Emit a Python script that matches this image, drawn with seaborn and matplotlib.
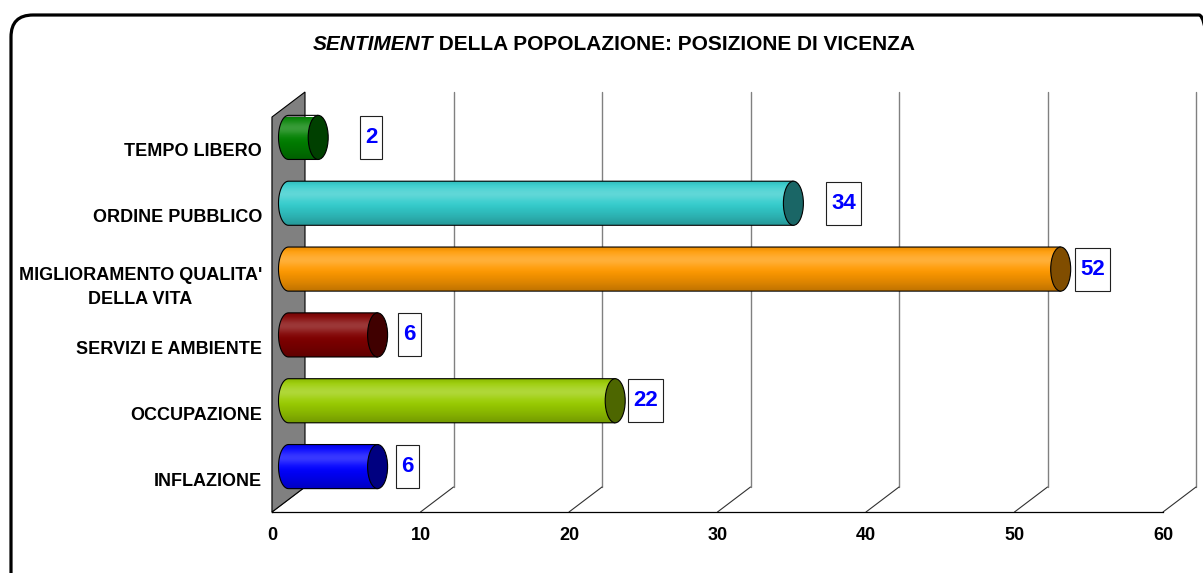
import numpy as np
import pandas as pd
import matplotlib
matplotlib.use("Agg")
import matplotlib.pyplot as plt
import seaborn as sns
from matplotlib.patches import Polygon, Ellipse, FancyBboxPatch, Rectangle
from matplotlib.transforms import Affine2D
from matplotlib.path import Path
from matplotlib.colors import to_rgb

# ---------------- data ----------------
CATEGORIES = ["TEMPO LIBERO", "ORDINE PUBBLICO", "MIGLIORAMENTO QUALITA'\nDELLA VITA",
              "SERVIZI E AMBIENTE", "OCCUPAZIONE", "INFLAZIONE"]
VALUES = [2, 34, 52, 6, 22, 6]
COLORS = ["#008000", "#33CCCC", "#FF9900", "#800000", "#99CC00", "#0000FF"]
X_TICKS = [0, 10, 20, 30, 40, 50, 60]
TITLE_ITALIC = "SENTIMENT"
TITLE_REST = " DELLA POPOLAZIONE: POSIZIONE DI VICENZA"

# ---------------- style ----------------
LABEL_GAP_PX = [53, 50, 32, 32, 30, 30]   # gap between bar end and value box centre
FONT = "Liberation Sans"

sns.set_style("white")
plt.rcParams["font.family"] = [FONT, "DejaVu Sans"]
plt.rcParams["text.color"] = "black"
plt.rcParams["xtick.labelcolor"] = "black"
plt.rcParams["ytick.labelcolor"] = "black"

W, H, DPI = 1203, 573, 100
fig = plt.figure(figsize=(W / DPI, H / DPI), dpi=DPI)
ax_l, ax_r, ax_t, ax_b = 272, 1163, 117, 512
ax = fig.add_axes([ax_l / W, (H - ax_b) / H, (ax_r - ax_l) / W, (ax_b - ax_t) / H])

df = pd.DataFrame({"cat": CATEGORIES, "val": VALUES})
sns.barplot(data=df, x="val", y="cat", hue="cat", palette=COLORS, legend=False,
            orient="h", width=0.67, linewidth=0, saturation=1, ax=ax, zorder=2.5)
bars = [p for p in ax.patches if isinstance(p, Rectangle)]
bars = sorted(bars, key=lambda p: p.get_y())

n = len(CATEGORIES)
xmin, xmax = X_TICKS[0], X_TICKS[-1]
px_per_x = (ax_r - ax_l) / (xmax - xmin)
px_per_y = (ax_b - ax_t) / n
DX = 33 / px_per_x          # depth offset in data units
DY = 25 / px_per_y
EW = 20 / px_per_x          # ellipse width of cylinder ends

off_mid = Affine2D().translate(DX / 2, -DY / 2) + ax.transData
y_bot, y_top = n - 0.5, -0.5

# left wall
wall = Polygon([(0, y_bot), (0, y_top), (DX, y_top - DY), (DX, y_bot - DY)], closed=True,
               fc="#808080", ec="black", lw=0.8, zorder=1, clip_on=False)
ax.add_patch(wall)

# back grid + floor diagonals
for t in X_TICKS[1:]:
    ax.plot([t + DX, t + DX], [y_bot - DY, y_top - DY], color="#808080", lw=1.0,
            zorder=0.5, clip_on=False)
for t in X_TICKS:
    ax.plot([t, t + DX], [y_bot, y_bot - DY], color="#303030", lw=0.8, zorder=0.6,
            clip_on=False)

# cylinders built on top of seaborn bars
tt = np.linspace(0, 1, 80)
light = 0.22 * np.exp(-((tt - 0.30) / 0.17) ** 2)
dark = 0.25 * np.clip((tt - 0.5) / 0.5, 0, 1) ** 1.3 + 0.10 * np.clip((0.12 - tt) / 0.12, 0, 1)

for p in bars:
    v = p.get_width()
    y0 = p.get_y()
    h = p.get_height()
    yc = y0 + h / 2
    base = np.array(to_rgb(p.get_facecolor()))
    p.set_transform(off_mid)

    theta = np.linspace(np.pi / 2, 3 * np.pi / 2, 40)
    left_arc = np.column_stack([(EW / 2) * np.cos(theta), yc - (h / 2) * np.sin(theta)])
    verts = np.vstack([[[v, y0]], left_arc, [[v, y0 + h]]])
    outline = Polygon(verts, closed=True, fc="none", ec="black", lw=0.8,
                      transform=off_mid, zorder=4, clip_on=False)
    ax.add_patch(outline)

    rgb = (base[None, :] * (1 - light[:, None]) + light[:, None]) * (1 - dark[:, None])
    img = rgb[:, None, :]
    im = ax.imshow(img, extent=(-EW / 2, v, y0 + h, y0), origin="upper", aspect="auto",
                   transform=off_mid, interpolation="bilinear", zorder=3)
    im.set_clip_path(outline)

    cap = Ellipse((v, yc), EW, h, fc=base * 0.5, ec="black", lw=0.8,
                  transform=off_mid, zorder=5, clip_on=False)
    ax.add_patch(cap)


# value labels with tall boxes
def tall_box(x0, y0, width, height, mutation_size):
    padx = 5
    bh = 43
    cy = y0 + height / 2
    x1 = x0 - padx
    x2 = x0 + width + padx
    yb, yt = cy - bh / 2, cy + bh / 2
    return Path([(x1, yb), (x2, yb), (x2, yt), (x1, yt), (x1, yb)], closed=True)


for i, p in enumerate(bars):
    v = p.get_width()
    yc = p.get_y() + p.get_height() / 2
    ax.annotate(f"{v:g}", xy=(v, yc), xycoords="data",
                xytext=(LABEL_GAP_PX[i] + 16.5, 12.5), textcoords="offset pixels",
                ha="center", va="center", color="#0000FF", fontsize=16,
                fontweight="bold", zorder=6, annotation_clip=False,
                bbox=dict(boxstyle=tall_box, fc="white", ec="#202020", lw=0.8))

ax.set_xlim(xmin, xmax)
ax.set_ylim(y_bot, y_top)
ax.set_xticks(X_TICKS)
ax.set_xticklabels([str(t) for t in X_TICKS], fontsize=13, fontweight="bold", color="black")
ax.set_yticks(range(n))
ax.set_yticklabels(CATEGORIES, fontsize=13, fontweight="bold", color="black")
for lab in ax.get_yticklabels():
    lab.set_multialignment("center")
    lab.set_linespacing(1.55)
ax.set_yticks(np.arange(-0.5, n, 1), minor=True)
ax.tick_params(axis="y", which="major", length=0, pad=7.2)
ax.tick_params(axis="y", which="minor", length=5, width=0.8, color="#606060", direction="out")
ax.tick_params(axis="x", which="major", length=4, width=0.8, color="black",
               direction="out", pad=7)
ax.set_xlabel("")
ax.set_ylabel("")
for s in ["top", "right"]:
    ax.spines[s].set_visible(False)
for s in ["left", "bottom"]:
    ax.spines[s].set_color("black")
    ax.spines[s].set_linewidth(0.9)
    ax.spines[s].set_zorder(0.7)
ax.patch.set_alpha(0)

# title (mixed italic)
t1 = fig.text(0, (H - 44) / H, TITLE_ITALIC, fontsize=15, fontweight="bold",
              fontstyle="italic", ha="left", va="center", color="black")
t2 = fig.text(0, (H - 44) / H, TITLE_REST, fontsize=15, fontweight="bold",
              ha="left", va="center", color="black")
fig.canvas.draw()
r = fig.canvas.get_renderer()
w1 = t1.get_window_extent(r).width
w2 = t2.get_window_extent(r).width
x_start = 614 - (w1 + w2) / 2
t1.set_x(x_start / W)
t2.set_x((x_start + w1) / W)

# outer rounded frame
frame = FancyBboxPatch((11 / DPI, -0.3), (1221 - 11) / DPI, (H - 15) / DPI + 0.3,
                       boxstyle="round,pad=0,rounding_size=0.22", fc="none", ec="black",
                       lw=2.3, transform=fig.dpi_scale_trans, zorder=10)
fig.add_artist(frame)

fig.savefig("out.png", dpi=DPI)
